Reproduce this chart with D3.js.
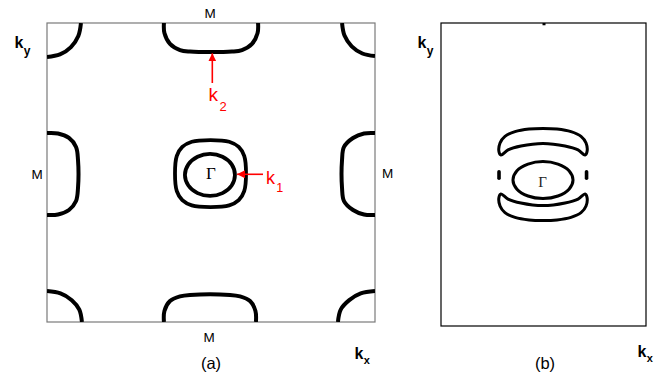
<!DOCTYPE html>
<html>
<head>
<meta charset="utf-8">
<script src="https://cdn.jsdelivr.net/npm/d3@7/dist/d3.min.js"></script>
<style>
  html, body { margin: 0; padding: 0; background: #fff; }
  svg { display: block; }
</style>
</head>
<body>
<svg id="chart" width="668" height="375"></svg>
<script>
// Fermi surface contours in reduced zone units: kx, ky in [-1, 1], Γ at the origin, M at the edge midpoints.

// Panel (a): corner pockets (quarter arcs around the zone corners)
const cornerTL = [[-0.793, 1], [-0.809, 0.913], [-0.854, 0.839], [-0.921, 0.790], [-1, 0.773]];
const cornerTR = [[0.799, 1], [0.814, 0.916], [0.858, 0.844], [0.923, 0.796], [1, 0.779]];
const cornerBL = [[-1, -0.793], [-0.918, -0.809], [-0.849, -0.854], [-0.803, -0.917], [-0.787, -1]];
const cornerBR = [[0.774, -1], [0.791, -0.917], [0.843, -0.854], [0.913, -0.809], [1, -0.793]];

// Panel (a): pockets around the four M points
const pocketTop = [[-0.287, 1], [-0.284, 0.933], [-0.250, 0.860], [-0.189, 0.819], [-0.128, 0.809],
                   [0.128, 0.809], [0.189, 0.819], [0.250, 0.860], [0.284, 0.933], [0.287, 1]];
const pocketBottom = [[-0.287, -1], [-0.284, -0.926], [-0.250, -0.860], [-0.189, -0.829], [-0.128, -0.819],
                      [0.116, -0.819], [0.177, -0.829], [0.238, -0.860], [0.271, -0.926], [0.274, -1]];
const pocketLeft = [[-1, 0.264], [-0.933, 0.261], [-0.866, 0.231], [-0.823, 0.171], [-0.811, 0.084],
                    [-0.811, -0.104], [-0.823, -0.191], [-0.866, -0.251], [-0.933, -0.281], [-1, -0.284]];
const pocketRight = [[1, 0.264], [0.933, 0.261], [0.866, 0.231], [0.811, 0.171], [0.799, 0.084],
                     [0.799, -0.104], [0.811, -0.191], [0.866, -0.251], [0.933, -0.281], [1, -0.284]];

// Panel (a): the two sheets around Γ
const gammaInner = [[0.146, -0.017], [0.126, 0.054], [0.070, 0.105], [-0.006, 0.124], [-0.082, 0.105],
                    [-0.138, 0.054], [-0.159, -0.017], [-0.138, -0.087], [-0.082, -0.138], [-0.006, -0.157],
                    [0.070, -0.138], [0.126, -0.087]];
const gammaOuter = [[0.2135, -0.007], [0.2025, 0.111], [0.169, 0.171], [0.111, 0.206], [-0.003, 0.217],
                    [-0.117, 0.206], [-0.175, 0.171], [-0.2085, 0.111], [-0.2195, -0.007], [-0.2085, -0.125],
                    [-0.175, -0.185], [-0.117, -0.220], [-0.003, -0.231], [0.111, -0.220], [0.169, -0.185],
                    [0.2025, -0.125]];

// Panel (b): distorted surface
const ellipseB = [[0.288, -0.036], [0.249, 0.025], [0.141, 0.069], [-0.005, 0.086], [-0.151, 0.069],
                  [-0.259, 0.025], [-0.298, -0.036], [-0.259, -0.097], [-0.151, -0.142], [-0.005, -0.158],
                  [0.141, -0.142], [0.249, -0.097]];
const crescentUpper = [[-0.434, 0.149], [-0.424, 0.208], [-0.376, 0.252], [-0.278, 0.283], [-0.141, 0.300],
                       [-0.005, 0.304], [0.132, 0.300], [0.268, 0.283], [0.366, 0.252], [0.415, 0.208],
                       [0.424, 0.149], [0.405, 0.129], [0.337, 0.162], [0.210, 0.188], [-0.005, 0.205],
                       [-0.220, 0.188], [-0.346, 0.162], [-0.415, 0.129]];
const crescentLower = [[-0.434, -0.149], [-0.424, -0.208], [-0.376, -0.252], [-0.278, -0.283], [-0.141, -0.300],
                       [-0.005, -0.304], [0.132, -0.300], [0.268, -0.283], [0.366, -0.252], [0.415, -0.208],
                       [0.424, -0.149], [0.405, -0.129], [0.337, -0.162], [0.210, -0.188], [-0.005, -0.205],
                       [-0.220, -0.188], [-0.346, -0.162], [-0.415, -0.129]];
const dotLeft = [[-0.434, 0.018], [-0.434, -0.024]];
const dotRight = [[0.420, 0.018], [0.420, -0.024]];
const tickTop = [[0.005, 1], [0.005, 0.985]];

const panelLabels = ["(a)", "(b)"];
const pointLabels = { gamma: "Γ", m: "M" };

const svg = d3.select("#chart");
const sans = "'Liberation Sans', Arial, sans-serif";
const serif = "'Liberation Serif', 'Times New Roman', serif";

// Scales for the two panels
const xA = d3.scaleLinear().domain([-1, 1]).range([47, 375]);
const yA = d3.scaleLinear().domain([-1, 1]).range([322, 23]);
const xB = d3.scaleLinear().domain([-1, 1]).range([441, 646]);
const yB = d3.scaleLinear().domain([-1, 1]).range([326, 23]);

const defs = svg.append("defs");
defs.append("clipPath").attr("id", "clipA").append("rect")
  .attr("x", xA(-1)).attr("y", yA(1)).attr("width", xA(1) - xA(-1)).attr("height", yA(-1) - yA(1));
defs.append("marker").attr("id", "arrowRed")
  .attr("viewBox", "0 0 10 10").attr("refX", 10).attr("refY", 5)
  .attr("markerWidth", 5).attr("markerHeight", 5).attr("markerUnits", "strokeWidth")
  .attr("orient", "auto")
  .append("path").attr("d", "M0,0 L10,5 L0,10 Z").attr("fill", "#ff0000");

function openLine(x, y) {
  return d3.line().x(d => x(d[0])).y(d => y(d[1])).curve(d3.curveCatmullRom.alpha(0.5));
}
function closedLine(x, y) {
  return d3.line().x(d => x(d[0])).y(d => y(d[1])).curve(d3.curveCatmullRomClosed.alpha(0.5));
}

// ---- Panel (a) ----
svg.append("rect")
  .attr("x", xA(-1)).attr("y", yA(1)).attr("width", xA(1) - xA(-1)).attr("height", yA(-1) - yA(1))
  .attr("fill", "none").attr("stroke", "#7a7a7a").attr("stroke-width", 1.2);

const gA = svg.append("g").attr("clip-path", "url(#clipA)");
const openA = openLine(xA, yA);
[cornerTL, cornerTR, cornerBL, cornerBR, pocketTop, pocketBottom, pocketLeft, pocketRight].forEach(c => {
  gA.append("path").attr("d", openA(c))
    .attr("fill", "none").attr("stroke", "#000").attr("stroke-width", 4).attr("stroke-linecap", "butt");
});
const closedA = closedLine(xA, yA);
[gammaInner, gammaOuter].forEach(c => {
  gA.append("path").attr("d", closedA(c))
    .attr("fill", "none").attr("stroke", "#000").attr("stroke-width", 3.8);
});

// ---- Panel (b) ----
svg.append("rect")
  .attr("x", xB(-1)).attr("y", yB(1)).attr("width", xB(1) - xB(-1)).attr("height", yB(-1) - yB(1))
  .attr("fill", "none").attr("stroke", "#000").attr("stroke-width", 1.2);

const closedB = closedLine(xB, yB);
[ellipseB, crescentUpper, crescentLower].forEach(c => {
  svg.append("path").attr("d", closedB(c))
    .attr("fill", "none").attr("stroke", "#000").attr("stroke-width", 3);
});
const straightB = d3.line().x(d => xB(d[0])).y(d => yB(d[1]));
[dotLeft, dotRight].forEach(c => {
  svg.append("path").attr("d", straightB(c))
    .attr("stroke", "#000").attr("stroke-width", 3.6).attr("stroke-linecap", "round");
});
svg.append("path").attr("d", straightB(tickTop))
  .attr("stroke", "#000").attr("stroke-width", 3).attr("stroke-linecap", "butt");

// ---- Text ----
function txt(x, y, s, size, opts = {}) {
  return svg.append("text")
    .attr("x", x).attr("y", y)
    .attr("text-anchor", opts.anchor || "middle")
    .attr("font-family", opts.family || sans)
    .attr("font-size", size)
    .attr("font-weight", opts.weight || "normal")
    .attr("fill", opts.color || "#000")
    .text(s);
}
// label with a subscript, e.g. k_y
function subLabel(x, y, main, sub, size, subSize, subDy, opts = {}) {
  txt(x, y, main, size, Object.assign({ anchor: "start" }, opts));
  const w = size * 0.52;
  txt(x + w + 1, y + subDy, sub, subSize, Object.assign({ anchor: "start" }, opts));
}

// M point labels of panel (a)
txt(xA(0) - 1, 18, pointLabels.m, 13.5);
txt(xA(0) - 2, 342, pointLabels.m, 13.5);
txt(37, 179, pointLabels.m, 13.5);
txt(387.5, 178, pointLabels.m, 13.5);

// Γ labels
txt(xA(0), 178.5, pointLabels.gamma, 17, { family: serif });
txt(xB(-0.01), 186.5, pointLabels.gamma, 15, { family: serif, color: "#222" });

// axis labels
subLabel(14.5, 48, "k", "y", 16, 12, 7, { weight: "bold" });
subLabel(354.5, 359, "k", "x", 16, 11, 4.5, { weight: "bold" });
subLabel(417.5, 48, "k", "y", 16, 12, 7, { weight: "bold" });
subLabel(637.5, 357, "k", "x", 16, 11, 4.5, { weight: "bold" });

// panel captions
txt(xA(0), 369, panelLabels[0], 16.5);
txt(xB(0) + 1.5, 369, panelLabels[1], 16.5);

// k1 / k2 markers
svg.append("line")
  .attr("x1", 263).attr("y1", yA(-0.012)).attr("x2", xA(0.159)).attr("y2", yA(-0.012))
  .attr("stroke", "#ff0000").attr("stroke-width", 1.6).attr("marker-end", "url(#arrowRed)");
svg.append("line")
  .attr("x1", xA(0.008)).attr("y1", 83).attr("x2", xA(0.008)).attr("y2", yA(0.797))
  .attr("stroke", "#ff0000").attr("stroke-width", 1.6).attr("marker-end", "url(#arrowRed)");
subLabel(266, 183.5, "k", "1", 18, 12.5, 8.5, { color: "#ff0000" });
subLabel(208.5, 101, "k", "2", 19, 13, 10, { color: "#ff0000" });
</script>
</body>
</html>
